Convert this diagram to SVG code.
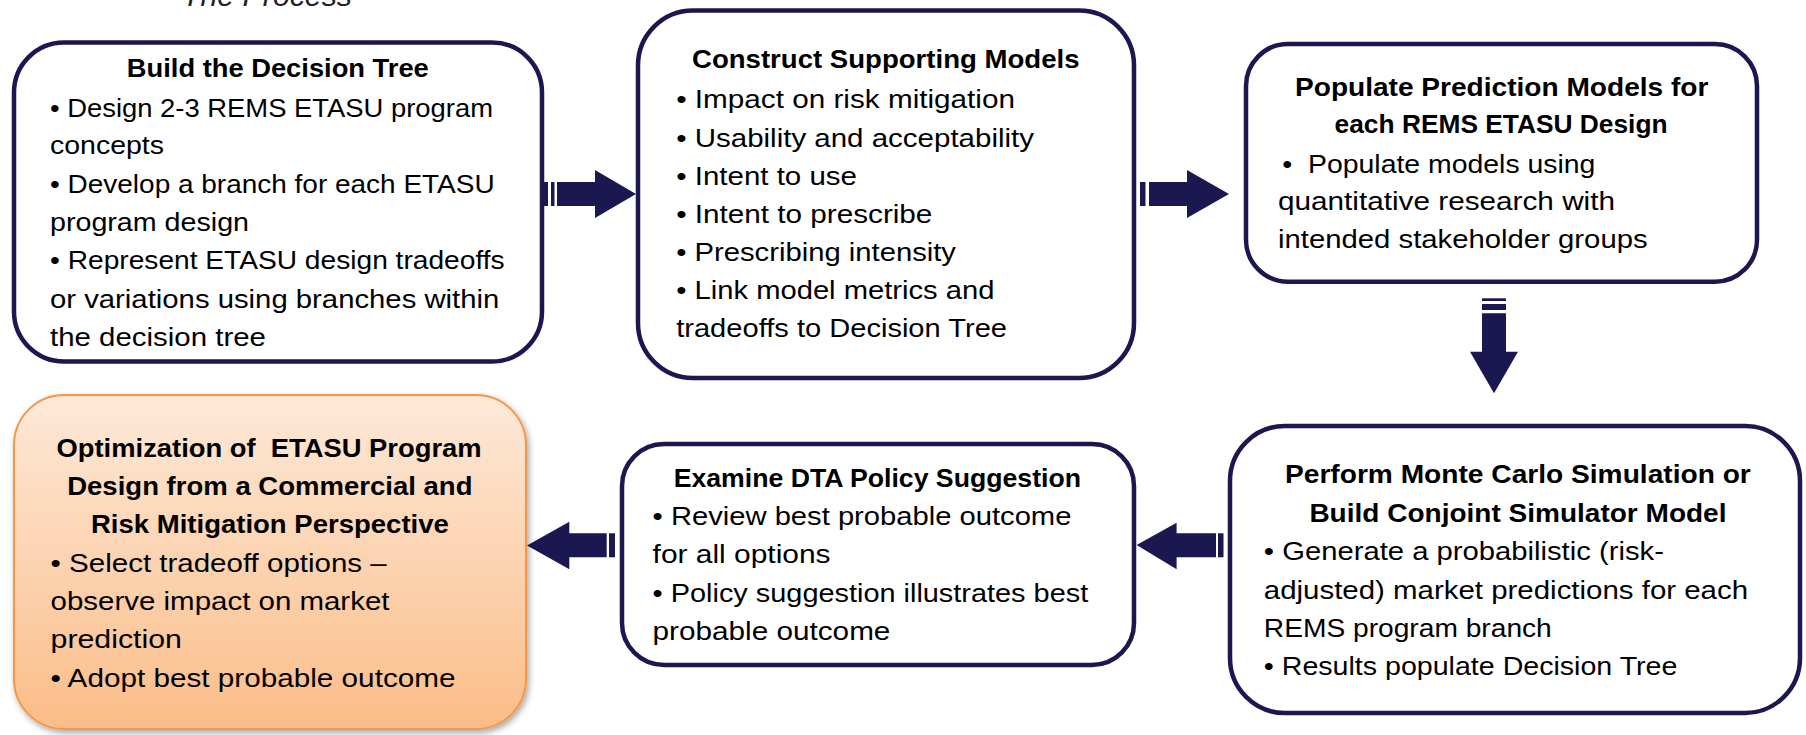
<svg xmlns="http://www.w3.org/2000/svg" width="1806" height="735" viewBox="0 0 1806 735">
<defs>
<linearGradient id="og" x1="0" y1="0" x2="0" y2="1">
<stop offset="0" stop-color="#fde9d9"/>
<stop offset="1" stop-color="#fbbd88"/>
</linearGradient>
<filter id="sh" x="-5%" y="-5%" width="115%" height="115%">
<feDropShadow dx="2" dy="3" stdDeviation="3" flood-color="#000" flood-opacity="0.35"/>
</filter>
</defs>
<style>
.box{fill:#fff;stroke:#1b1750;stroke-width:4.5}
.obox{fill:url(#og);stroke:#f79646;stroke-width:2;filter:url(#sh)}
.arr{fill:#1b1750}
text{font-family:"Liberation Sans",Arial,sans-serif;font-size:26px;fill:#000}
.t{font-weight:bold}
.ttl{font-style:italic;font-size:30px;fill:#222}
</style>
<text class="ttl" x="182" y="6" textLength="170" lengthAdjust="spacingAndGlyphs">The Process</text>

<g id="connectors">
<g id="a1"><rect class="arr" x="544" y="182" width="4" height="24"/><rect class="arr" x="551" y="182" width="3.5" height="24"/><polygon class="arr" points="557,182 595,182 595,170 636,194 595,218 595,206 557,206"/></g>
<g id="a2"><rect class="arr" x="1140" y="182" width="5.5" height="24"/><polygon class="arr" points="1149,182 1187,182 1187,170 1229,194 1187,218 1187,206 1149,206"/></g>
<g id="a3"><rect class="arr" x="1482" y="298.3" width="24" height="2.7"/><rect class="arr" x="1482" y="304" width="24" height="6"/><polygon class="arr" points="1482,313.3 1506,313.3 1506,351.7 1518,351.7 1494,393.3 1470,351.7 1482,351.7"/></g>
<g id="a4"><rect class="arr" x="1218" y="533.3" width="5.5" height="24"/><polygon class="arr" points="1216,533.3 1176.6,533.3 1176.6,522.7 1136.6,545 1176.6,569.3 1176.6,557.3 1216,557.3"/></g>
<g id="a5"><rect class="arr" x="609" y="533.3" width="6" height="24"/><polygon class="arr" points="606.7,533.3 569.3,533.3 569.3,521.7 527,545.5 569.3,569.3 569.3,557.3 606.7,557.3"/></g>
</g>

<g id="n1">
<rect class="box" x="14" y="42.5" width="528" height="319" rx="50"/>
<text class="t" x="126.8" y="77.3" textLength="302" lengthAdjust="spacingAndGlyphs">Build the Decision Tree</text>
<text x="50" y="116.7" textLength="443" lengthAdjust="spacingAndGlyphs">• Design 2-3 REMS ETASU program</text>
<text x="50" y="154" textLength="114" lengthAdjust="spacingAndGlyphs">concepts</text>
<text x="50" y="193.3" textLength="444.6" lengthAdjust="spacingAndGlyphs">• Develop a branch for each ETASU</text>
<text x="50" y="230.7" textLength="199" lengthAdjust="spacingAndGlyphs">program design</text>
<text x="50" y="269.3" textLength="454.6" lengthAdjust="spacingAndGlyphs">• Represent ETASU design tradeoffs</text>
<text x="50" y="308.3" textLength="449.3" lengthAdjust="spacingAndGlyphs">or variations using branches within</text>
<text x="50" y="346" textLength="216" lengthAdjust="spacingAndGlyphs">the decision tree</text>
</g>

<g id="n2">
<rect class="box" x="638" y="10.5" width="496" height="367.5" rx="55"/>
<text class="t" x="692" y="68.3" textLength="387.5" lengthAdjust="spacingAndGlyphs">Construct Supporting Models</text>
<text x="676.2" y="108.3" textLength="338.8" lengthAdjust="spacingAndGlyphs">• Impact on risk mitigation</text>
<text x="676.2" y="146.7" textLength="357.8" lengthAdjust="spacingAndGlyphs">• Usability and acceptability</text>
<text x="676.2" y="185" textLength="180.8" lengthAdjust="spacingAndGlyphs">• Intent to use</text>
<text x="676.2" y="223.3" textLength="256.2" lengthAdjust="spacingAndGlyphs">• Intent to prescribe</text>
<text x="676.2" y="261" textLength="279.8" lengthAdjust="spacingAndGlyphs">• Prescribing intensity</text>
<text x="676.2" y="299.3" textLength="318.3" lengthAdjust="spacingAndGlyphs">• Link model metrics and</text>
<text x="676.2" y="337.3" textLength="330.8" lengthAdjust="spacingAndGlyphs">tradeoffs to Decision Tree</text>
</g>

<g id="n3">
<rect class="box" x="1246" y="44" width="511" height="237.7" rx="42"/>
<text class="t" x="1295" y="96" textLength="413.4" lengthAdjust="spacingAndGlyphs">Populate Prediction Models for</text>
<text class="t" x="1334.6" y="133.3" textLength="333" lengthAdjust="spacingAndGlyphs">each REMS ETASU Design</text>
<text x="1282.3" y="172.7" textLength="313.1" lengthAdjust="spacingAndGlyphs" xml:space="preserve">•  Populate models using</text>
<text x="1278" y="210" textLength="337" lengthAdjust="spacingAndGlyphs">quantitative research with</text>
<text x="1278" y="248.3" textLength="369.6" lengthAdjust="spacingAndGlyphs">intended stakeholder groups</text>
</g>

<g id="n4">
<rect class="box" x="1230" y="426" width="570" height="287" rx="55"/>
<text class="t" x="1285" y="483.3" textLength="465.8" lengthAdjust="spacingAndGlyphs">Perform Monte Carlo Simulation or</text>
<text class="t" x="1309.4" y="521.7" textLength="417.1" lengthAdjust="spacingAndGlyphs">Build Conjoint Simulator Model</text>
<text x="1263.8" y="560" textLength="400.1" lengthAdjust="spacingAndGlyphs">• Generate a probabilistic (risk-</text>
<text x="1263.8" y="599.3" textLength="484.3" lengthAdjust="spacingAndGlyphs">adjusted) market predictions for each</text>
<text x="1263.8" y="636.7" textLength="288" lengthAdjust="spacingAndGlyphs">REMS program branch</text>
<text x="1263.8" y="675" textLength="413.6" lengthAdjust="spacingAndGlyphs">• Results populate Decision Tree</text>
</g>

<g id="n5">
<rect class="box" x="622" y="444" width="512" height="221" rx="42"/>
<text class="t" x="673.7" y="486.7" textLength="407.3" lengthAdjust="spacingAndGlyphs">Examine DTA Policy Suggestion</text>
<text x="652.6" y="525" textLength="418.8" lengthAdjust="spacingAndGlyphs">• Review best probable outcome</text>
<text x="652.6" y="563.3" textLength="178" lengthAdjust="spacingAndGlyphs">for all options</text>
<text x="652.6" y="601.7" textLength="435.6" lengthAdjust="spacingAndGlyphs">• Policy suggestion illustrates best</text>
<text x="652.6" y="640" textLength="237.8" lengthAdjust="spacingAndGlyphs">probable outcome</text>
</g>

<g id="n6">
<rect class="obox" x="14" y="395" width="512" height="334" rx="50"/>
<text class="t" x="56.5" y="457.3" textLength="425.1" lengthAdjust="spacingAndGlyphs" xml:space="preserve">Optimization of  ETASU Program</text>
<text class="t" x="67.2" y="495" textLength="405.3" lengthAdjust="spacingAndGlyphs">Design from a Commercial and</text>
<text class="t" x="91" y="533.3" textLength="357.8" lengthAdjust="spacingAndGlyphs">Risk Mitigation Perspective</text>
<text x="50.6" y="571.7" textLength="336.1" lengthAdjust="spacingAndGlyphs">• Select tradeoff options –</text>
<text x="50.6" y="610" textLength="338.9" lengthAdjust="spacingAndGlyphs">observe impact on market</text>
<text x="50.6" y="648.3" textLength="131.3" lengthAdjust="spacingAndGlyphs">prediction</text>
<text x="50.6" y="686.7" textLength="404.9" lengthAdjust="spacingAndGlyphs">• Adopt best probable outcome</text>
</g>
</svg>
